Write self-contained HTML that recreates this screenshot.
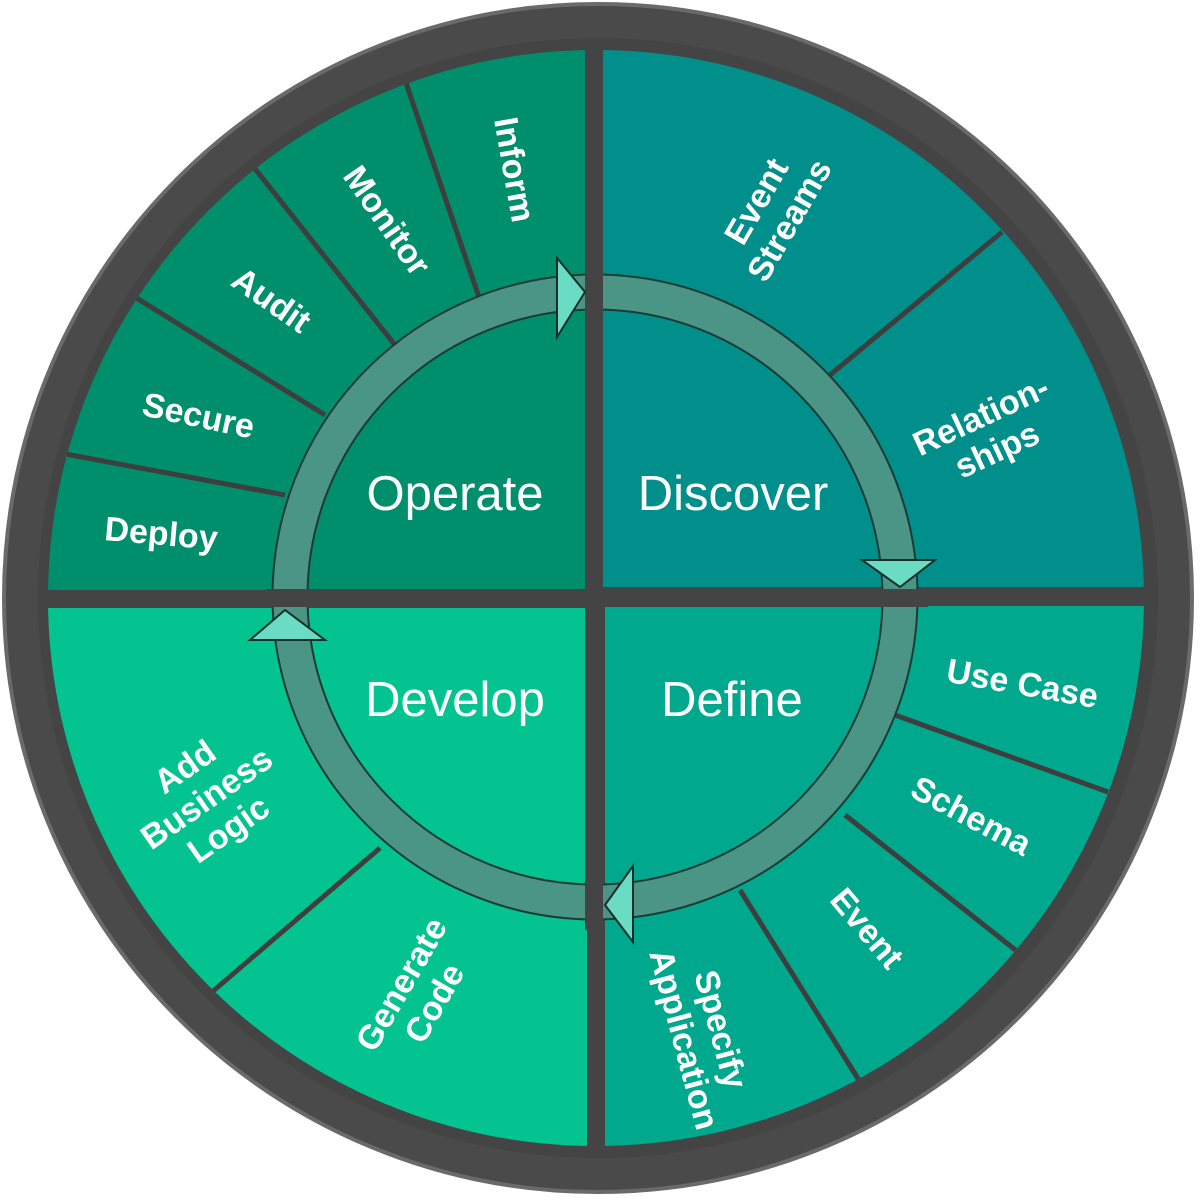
<!DOCTYPE html>
<html><head><meta charset="utf-8"><style>
html,body{margin:0;padding:0;background:#fff;}
svg{display:block}
text{font-family:"Liberation Sans",sans-serif;fill:#fff;}
.s{font-weight:bold;font-size:34px;text-anchor:middle;dominant-baseline:middle;}
.b{font-size:49px;text-anchor:middle;dominant-baseline:middle;}
</style></head><body>
<svg width="1200" height="1200" viewBox="0 0 1200 1200">
<defs>
<clipPath id="c"><circle cx="596" cy="598" r="548"/></clipPath>
</defs>
<circle cx="598" cy="598" r="594" fill="#4a4a4a" stroke="#6a6a6a" stroke-width="4"/>
<circle cx="598" cy="598" r="560" fill="#444"/>
<g clip-path="url(#c)">
<rect x="40" y="50" width="545" height="540" fill="#008f6c"/>
<rect x="603" y="50" width="545" height="537" fill="#008f8a"/>
<rect x="40" y="608" width="547" height="545" fill="#03c490"/>
<rect x="605" y="606" width="545" height="545" fill="#00a88e"/>
<g stroke="#3e3e3e" stroke-width="5">
<line x1="480" y1="300" x2="405" y2="80"/>
<line x1="395" y1="345" x2="252" y2="165"/>
<line x1="325" y1="415" x2="130" y2="294"/>
<line x1="285" y1="495" x2="60" y2="453"/>
<line x1="830" y1="375" x2="1002" y2="232"/>
<line x1="895" y1="715" x2="1108" y2="792"/>
<line x1="845" y1="815" x2="1018" y2="952"/>
<line x1="740" y1="890" x2="862" y2="1085"/>
<line x1="380" y1="848" x2="212" y2="992"/>
</g>
</g>
<!-- ring -->
<circle cx="595" cy="597" r="305" fill="none" stroke="#1d3b34" stroke-width="37"/>
<circle cx="595" cy="597" r="305" fill="none" stroke="#6fe0c8" stroke-width="33" opacity="0.55"/>
<!-- gaps over ring -->
<rect x="585" y="268" width="18" height="662" fill="#444"/>
<rect x="266" y="589" width="662" height="18" fill="#444"/>
<g fill="#6adcc4" stroke="#1a2e2a" stroke-width="2">
<polygon points="557,258 585,292 557,337"/>
<polygon points="862,560 935,560 900,587"/>
<polygon points="633,866 605,905 633,942"/>
<polygon points="250,640 285,610 325,640"/>
</g>
<text class="b" x="455" y="497">Operate</text>
<text class="b" x="733" y="497">Discover</text>
<text class="b" x="455" y="703">Develop</text>
<text class="b" x="732" y="703">Define</text>
<text class="s" transform="translate(512,170) rotate(80)">Inform</text>
<text class="s" transform="translate(385,222) rotate(55)">Monitor</text>
<text class="s" transform="translate(270,302) rotate(35)">Audit</text>
<text class="s" transform="translate(198,418) rotate(12)">Secure</text>
<text class="s" transform="translate(161,536) rotate(5)">Deploy</text>
<g transform="translate(775,212) rotate(-60)"><text class="s" y="-19">Event</text><text class="s" y="19">Streams</text></g>
<g transform="translate(990,435) rotate(-25)"><text class="s" y="-19">Relation-</text><text class="s" y="19">ships</text></g>
<text class="s" transform="translate(1022,686) rotate(10)">Use Case</text>
<text class="s" transform="translate(970,818) rotate(28)">Schema</text>
<text class="s" transform="translate(865,930) rotate(50)">Event</text>
<g transform="translate(700,1035) rotate(75)"><text class="s" y="-19">Specify</text><text class="s" y="19">Application</text></g>
<g transform="translate(208,800) rotate(-35)"><text class="s" y="-38">Add</text><text class="s" y="0">Business</text><text class="s" y="38">Logic</text></g>
<g transform="translate(420,995) rotate(-60)"><text class="s" y="-19">Generate</text><text class="s" y="19">Code</text></g>
</svg>
</body></html>
